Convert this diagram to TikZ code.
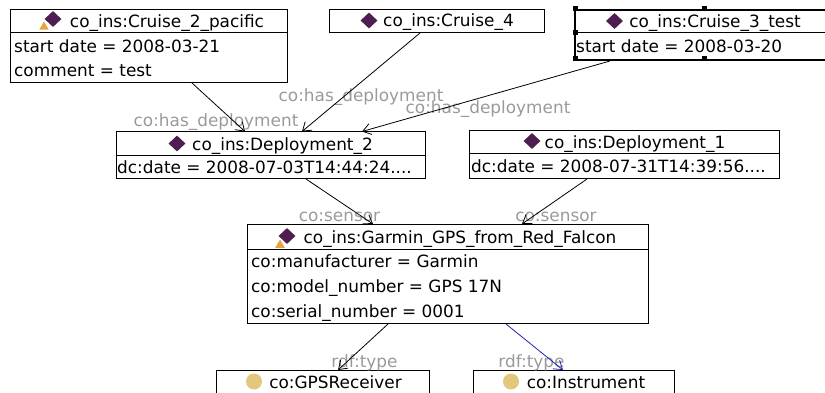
\documentclass[tikz,border=0pt]{standalone}
\usepackage{fontspec}
\setmainfont{DejaVu Sans}
\usetikzlibrary{arrows.meta,shapes.geometric}
\definecolor{dpurple}{HTML}{4E1E50}
\definecolor{clsyellow}{HTML}{E2C77C}
\definecolor{lblgray}{HTML}{9A9A9A}
\definecolor{warnorange}{HTML}{E8A33A}
\definecolor{linkblue}{HTML}{2020B0}
\begin{document}
\begin{tikzpicture}[x=1pt,y=-1pt,
  every node/.style={font=\fontsize{16.9}{20}\selectfont, inner sep=0pt},
  box/.style={draw, line width=1pt, anchor=north west, inner sep=0pt, fill=white},
  selbox/.style={box, line width=2pt},
  divline/.style={line width=1pt},
  txt/.style={anchor=base west, text=black},
  hdr/.style={anchor=base, text=black},
  lbl/.style={anchor=base, text=lblgray},
  inst/.style={diamond, fill=dpurple, minimum width=17pt, minimum height=16pt, inner sep=0pt},
  warn/.style={regular polygon, regular polygon sides=3, fill=warnorange, minimum size=11pt, inner sep=0pt},
  cls/.style={circle, fill=clsyellow, minimum size=16pt, inner sep=0pt},
  link/.style={line width=0.8pt, -{Straight Barb[length=8pt,width=11pt]}},
  bluelink/.style={link, draw=linkblue},
  handle/.style={rectangle, fill=black, minimum size=5pt, inner sep=0pt},
]
\useasboundingbox (0,0) rectangle (825,393);
\clip (0,0) rectangle (825,393);

% ---------- boxes ----------
\node[box, minimum width=277pt, minimum height=73pt] (c2) at (10,9) {};
\draw[divline] ([yshift=-24pt]c2.north west) -- ([yshift=-24pt]c2.north east);
\node[box, minimum width=215pt, minimum height=23pt] (c4) at (329,9) {};
\node[selbox, minimum width=260pt, minimum height=50pt] (c3) at (574,9) {};
\draw[divline] ([yshift=-24pt]c3.north west) -- ([yshift=-24pt]c3.north east);
\node[box, minimum width=309pt, minimum height=46.5pt] (d2) at (116,131.5) {};
\draw[divline] ([yshift=-24pt]d2.north west) -- ([yshift=-24pt]d2.north east);
\node[box, minimum width=310pt, minimum height=48pt] (d1) at (469,130) {};
\draw[divline] ([yshift=-24pt]d1.north west) -- ([yshift=-24pt]d1.north east);
\node[box, minimum width=401pt, minimum height=99pt] (gar) at (247,224) {};
\draw[divline] ([yshift=-25pt]gar.north west) -- ([yshift=-25pt]gar.north east);
\node[box, minimum width=213pt, minimum height=40pt] (gps) at (216,370) {};
\node[box, minimum width=201pt, minimum height=40pt] (ins) at (473,370) {};

% selection handles
\node[handle] (h1) at (575,9) {};
\node[handle] (h2) at (575,33) {};
\node[handle] (h3) at (575,59) {};
\node[handle] (h4) at (704,9) {};
\node[handle] (h5) at (704,59) {};

% ---------- box texts ----------
\node[inst] (c2i) at (53,19) {};
\node[warn] (c2w) at (44,27) {};
\node[hdr] (c2h) at (167,27.5) {co\_ins:Cruise\_2\_pacific};
\node[txt] (c2a) at (14,53) {start date = 2008-03-21};
\node[txt] (c2b) at (14,76.5) {comment = test};

\node[inst] (c4i) at (369,20.5) {};
\node[hdr] (c4h) at (448.5,27) {co\_ins:Cruise\_4};

\node[inst] (c3i) at (614.5,21) {};
\node[hdr] (c3h) at (715,27.5) {co\_ins:Cruise\_3\_test};
\node[txt] (c3a) at (576,53) {start date = 2008-03-20};

\node[inst] (d2i) at (177,143.5) {};
\node[hdr] (d2h) at (282.5,151) {co\_ins:Deployment\_2};
\node[txt] (d2a) at (117,174) {dc:date = 2008-07-03T14:44:24....};

\node[inst] (d1i) at (532,141) {};
\node[hdr] (d1h) at (635,148.5) {co\_ins:Deployment\_1};
\node[txt] (d1a) at (471,172.5) {dc:date = 2008-07-31T14:39:56....};

\node[inst] (gari) at (287,236) {};
\node[warn] (garw) at (280,245) {};
\node[hdr] (garh) at (460,243.5) {co\_ins:Garmin\_GPS\_from\_Red\_Falcon};
\node[txt] (gara) at (251,267) {co:manufacturer = Garmin};
\node[txt] (garb) at (251,292) {co:model\_number = GPS 17N};
\node[txt] (garc) at (251,317) {co:serial\_number = 0001};

\node[cls] (gpsi) at (254,381.5) {};
\node[hdr] (gpsh) at (335.5,388) {co:GPSReceiver};
\node[cls] (insi) at (511,381.5) {};
\node[hdr] (insh) at (586,388) {co:Instrument};

% ---------- edge labels ----------
\node[lbl] (l1) at (216,127) {co:has\_deployment};
\node[lbl] (l2) at (361,102) {co:has\_deployment};
\node[lbl] (l3) at (488,113.5) {co:has\_deployment};
\node[lbl] (l4) at (339.5,222) {co:sensor};
\node[lbl] (l5) at (556,222) {co:sensor};
\node[lbl] (l6) at (364.5,367) {rdf:type};
\node[lbl] (l7) at (531.5,367) {rdf:type};

% ---------- connectors ----------
\draw[link] ([xshift=182pt]c2.south west) -- ([xshift=129pt]d2.north west);
\draw[link] ([xshift=91pt]c4.south west) -- ([xshift=186pt]d2.north west);
\draw[link] ([xshift=36pt]c3.south west) -- ([xshift=246pt]d2.north west);
\draw[link] ([xshift=190pt]d2.south west) -- ([xshift=126pt]gar.north west);
\draw[link] ([xshift=118pt]d1.south west) -- ([xshift=275pt]gar.north west);
\draw[link] ([xshift=141pt]gar.south west) -- ([xshift=122pt]gps.north west);
\draw[bluelink] ([xshift=259pt]gar.south west) -- ([xshift=90pt]ins.north west);
\end{tikzpicture}
\end{document}
